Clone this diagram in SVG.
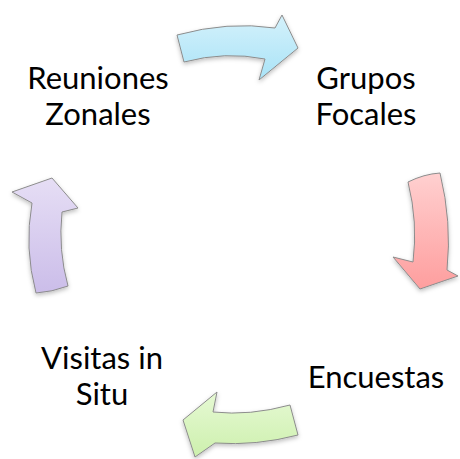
<svg xmlns="http://www.w3.org/2000/svg" width="460" height="459" viewBox="0 0 460 459">
<defs>
<linearGradient id="gb" x1="0" y1="0" x2="0" y2="1"><stop offset="0" stop-color="#d4f1fb"/><stop offset="1" stop-color="#a9e3f7"/></linearGradient>
<linearGradient id="gr" x1="0" y1="0" x2="0" y2="1"><stop offset="0" stop-color="#ffd0d0"/><stop offset="1" stop-color="#fe9e9e"/></linearGradient>
<linearGradient id="gg" x1="0" y1="0" x2="0" y2="1"><stop offset="0" stop-color="#e6f9d4"/><stop offset="1" stop-color="#cdf0ad"/></linearGradient>
<linearGradient id="gp" x1="0" y1="0" x2="0" y2="1"><stop offset="0" stop-color="#e6def5"/><stop offset="1" stop-color="#cbbde9"/></linearGradient>
<filter id="sh" x="-20%" y="-20%" width="140%" height="140%"><feDropShadow dx="0" dy="2" stdDeviation="2" flood-color="#000" flood-opacity="0.25"/></filter>
<style>
.arr{stroke:#8c8c8c;stroke-width:1;stroke-linejoin:round;filter:url(#sh)}
.t{font-family:Lato,"Open Sans",sans-serif;font-size:31px;fill:#000;text-anchor:middle}
</style>
</defs>
<g id="connectors">
<path class="arr" fill="url(#gb)" d="M177,35 Q228,21 275,28 L282,15 L298,48 L259,80 L265,59 Q225,51 184,62 Z"/>
<path class="arr" fill="url(#gr)" d="M408,182 Q424,174 440,173 Q452,222 447,270 L458,276 L420,289 L393,257 L413,262 Q418,222 408,182 Z"/>
<path class="arr" fill="url(#gg)" d="M290,405 Q250,416 213,412 L217,392 L183,420 L195,457 L215,443 Q256,446 298,435 Z"/>
<path class="arr" fill="url(#gp)" d="M36,293 Q24,248 32,203 L12,192 L52,178 L78,208 L62,212 Q58,250 68,286 Q52,292 36,293 Z"/>
</g>
<g id="node-grupos"><text class="t" x="366" y="89">Grupos</text><text class="t" x="366" y="125">Focales</text></g>
<g id="node-encuestas"><text class="t" x="376" y="388">Encuestas</text></g>
<g id="node-visitas"><text class="t" x="102" y="369">Visitas in</text><text class="t" x="102" y="405">Situ</text></g>
<g id="node-reuniones"><text class="t" x="98" y="89">Reuniones</text><text class="t" x="98" y="125">Zonales</text></g>
</svg>
